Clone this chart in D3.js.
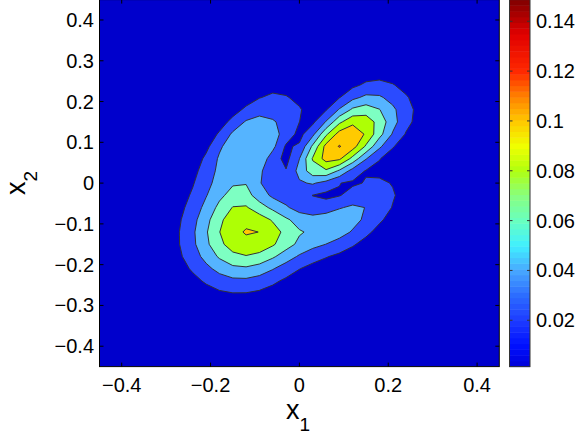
<!DOCTYPE html>
<html><head><meta charset="utf-8">
<script src="https://cdn.jsdelivr.net/npm/d3@7"></script>
<style>
body{margin:0;background:#fff}
svg{display:block}
text{font-family:"Liberation Sans",Arial,Helvetica,sans-serif;fill:#000}
</style>
</head><body>
<svg id="chart" width="584" height="439"></svg>
<script>
// ---- data ----
const gridMin = -0.45, gridMax = 0.45, gridN = 31;
const xTicks = [-0.4, -0.2, 0, 0.2, 0.4];
const yTicks = [-0.4, -0.3, -0.2, -0.1, 0, 0.1, 0.2, 0.3, 0.4];
const levels = [0.02, 0.04, 0.06, 0.08, 0.1, 0.12, 0.14];
const colorbarTicks = [0.02, 0.04, 0.06, 0.08, 0.1, 0.12, 0.14];
const colorLimits = [0.0014, 0.1487];
// density components: upper ellipse, lower blob, upper arm (2), right arm (2)
const compX     = [0.09,   -0.12,  -0.125, -0.07,  0.02,   0.13];
const compY     = [0.09,   -0.12,  0.055,  0.135,  -0.11,  -0.065];
const compAmp   = [0.1213, 0.097,  0.034,  0.03,   0.03,   0.037];
const compAngle = [43,     45,     63,     50,     8,      40];
const compSuPos = [0.11,   0.072,  0.08,   0.085,  0.075,  0.09];
const compSuNeg = [0.082,  0.09,   0.08,   0.085,  0.075,  0.09];
const compSvPos = [0.044,  0.08,   0.075,  0.06,   0.04,   0.038];
const compSvNeg = [0.042,  0.08,   0.055,  0.045,  0.05,   0.05];
const compPowU  = [1.1,    1.05,   1.0,    1.0,    1.1,    1.1];
const compPowV  = [1.1,    1.05,   2.0,    2.0,    1.1,    1.1];
const compTaper = [2.0,    0,      0,      0,      0,      0];

// ---- styles ----
const bgColor = "#0000CC";
const fillColors = ["#2B4BFF", "#55B4FF", "#7DFFC2", "#AEFF05", "#FFCA00", "#FF5000", "#D00000"];
const cbStopValues = [0.0014, 0.01, 0.02, 0.03, 0.04, 0.05, 0.06, 0.07, 0.08, 0.09, 0.1, 0.11, 0.12, 0.135, 0.1487];
const cbStopColors = ["#0000D8", "#0010FF", "#1E3CFF", "#2C6CFF", "#48A8FF", "#40F0FF", "#68FFC0", "#88FF80", "#B0FF10", "#F0FF00", "#FFC800", "#FF8000", "#FF2800", "#E00000", "#800000"];

const plot = {left: 99.5, right: 499.3, top: -0.4, bottom: 366.6};
const cb = {left: 509.5, right: 530};

const svg = d3.select("#chart");
const x = d3.scaleLinear().domain([gridMin, gridMax]).range([plot.left, plot.right]);
const y = d3.scaleLinear().domain([gridMin, gridMax]).range([plot.bottom, plot.top]);

const h = (gridMax - gridMin) / (gridN - 1);
const values = new Array(gridN * gridN);
for (let j = 0; j < gridN; j++) {
  for (let i = 0; i < gridN; i++) {
    const px = gridMin + i * h, py = gridMin + j * h;
    let s = 0;
    for (let k = 0; k < compX.length; k++) {
      const a = compAngle[k] * Math.PI / 180;
      const dx = px - compX[k], dy = py - compY[k];
      const u = dx * Math.cos(a) + dy * Math.sin(a);
      const v = -dx * Math.sin(a) + dy * Math.cos(a);
      const su = u >= 0 ? compSuPos[k] : compSuNeg[k];
      const sv = (v >= 0 ? compSvPos[k] : compSvNeg[k]) * Math.exp(compTaper[k] * u);
      const e = Math.pow(Math.abs(u) / su, 2 * compPowU[k]) + Math.pow(Math.abs(v) / sv, 2 * compPowV[k]);
      s += compAmp[k] * Math.exp(-0.5 * e);
    }
    values[i + j * gridN] = s;
  }
}

svg.append("defs").append("clipPath").attr("id", "clip")
  .append("rect").attr("x", plot.left).attr("y", plot.top)
  .attr("width", plot.right - plot.left).attr("height", plot.bottom - plot.top);

const g = svg.append("g").attr("clip-path", "url(#clip)");
g.append("rect").attr("x", plot.left).attr("y", plot.top)
  .attr("width", plot.right - plot.left).attr("height", plot.bottom - plot.top)
  .attr("fill", bgColor);

const proj = d3.geoTransform({
  point: function(cx, cy) {
    this.stream.point(x(gridMin + h * (cx - 0.5)), y(gridMin + h * (cy - 0.5)));
  }
});
const path = d3.geoPath(proj);
const contours = d3.contours().size([gridN, gridN]).thresholds(levels)(values);

g.selectAll("path.band").data(contours).join("path")
  .attr("class", "band")
  .attr("d", path)
  .attr("fill", (d, i) => fillColors[i])
  .attr("stroke", "#333")
  .attr("stroke-width", 1)
  .attr("stroke-linejoin", "round");

svg.append("rect").attr("x", plot.left).attr("y", plot.top)
  .attr("width", plot.right - plot.left).attr("height", plot.bottom - plot.top)
  .attr("fill", "none").attr("stroke", "#000").attr("stroke-width", 1);

const tickLen = 4;
xTicks.forEach(t => {
  const px = x(t);
  svg.append("line").attr("x1", px).attr("x2", px).attr("y1", plot.bottom).attr("y2", plot.bottom - tickLen).attr("stroke", "#000");
  svg.append("line").attr("x1", px).attr("x2", px).attr("y1", plot.top).attr("y2", plot.top + tickLen).attr("stroke", "#000");
});
yTicks.forEach(t => {
  const py = y(t);
  svg.append("line").attr("x1", plot.left).attr("x2", plot.left + tickLen).attr("y1", py).attr("y2", py).attr("stroke", "#000");
  svg.append("line").attr("x1", plot.right).attr("x2", plot.right - tickLen).attr("y1", py).attr("y2", py).attr("stroke", "#000");
});

const fmt = v => {
  if (Math.abs(v) < 1e-9) return "0";
  return String(+v.toFixed(2)).replace("-", "\u2212");
};
const tickFont = 20;
svg.selectAll("text.xt").data(xTicks).join("text").attr("class", "xt")
  .attr("x", d => x(d)).attr("y", 392)
  .attr("text-anchor", "middle").attr("font-size", tickFont)
  .text(fmt);
svg.selectAll("text.yt").data(yTicks).join("text").attr("class", "yt")
  .attr("x", 94).attr("y", d => y(d) + 7)
  .attr("text-anchor", "end").attr("font-size", tickFont)
  .text(fmt);

const xl = svg.append("text").attr("x", 298).attr("y", 418.5).attr("text-anchor", "middle");
xl.append("tspan").attr("font-size", 27).text("x");
xl.append("tspan").attr("font-size", 19).attr("dy", 12).text("1");
const yl = svg.append("text").attr("transform", "translate(25,183) rotate(-90)").attr("text-anchor", "middle");
yl.append("tspan").attr("font-size", 27).text("x");
yl.append("tspan").attr("font-size", 19).attr("dy", 12).text("2");

const cy = d3.scaleLinear().domain(colorLimits).range([plot.bottom, plot.top]);
const cbColor = d3.scaleLinear().domain(cbStopValues).range(cbStopColors).interpolate(d3.interpolateRgb);
const nb = 64;
const step = (colorLimits[1] - colorLimits[0]) / nb;
const bands = d3.range(nb).map(k => colorLimits[0] + k * step);
svg.selectAll("rect.cb").data(bands).join("rect").attr("class", "cb")
  .attr("x", cb.left).attr("width", cb.right - cb.left)
  .attr("y", d => cy(d + step))
  .attr("height", d => cy(d) - cy(d + step) + 0.5)
  .attr("fill", d => cbColor(d + step / 2));
svg.append("rect").attr("x", cb.left).attr("y", plot.top)
  .attr("width", cb.right - cb.left).attr("height", plot.bottom - plot.top)
  .attr("fill", "none").attr("stroke", "#333").attr("stroke-width", 1);
colorbarTicks.forEach(t => {
  const py = cy(t);
  svg.append("line").attr("x1", cb.left).attr("x2", cb.left + 3).attr("y1", py).attr("y2", py).attr("stroke", "#333");
  svg.append("line").attr("x1", cb.right).attr("x2", cb.right - 3).attr("y1", py).attr("y2", py).attr("stroke", "#333");
});
svg.selectAll("text.ct").data(colorbarTicks).join("text").attr("class", "ct")
  .attr("x", 536).attr("y", d => cy(d) + 7)
  .attr("font-size", tickFont)
  .text(d => String(d));
</script>
</body></html>
